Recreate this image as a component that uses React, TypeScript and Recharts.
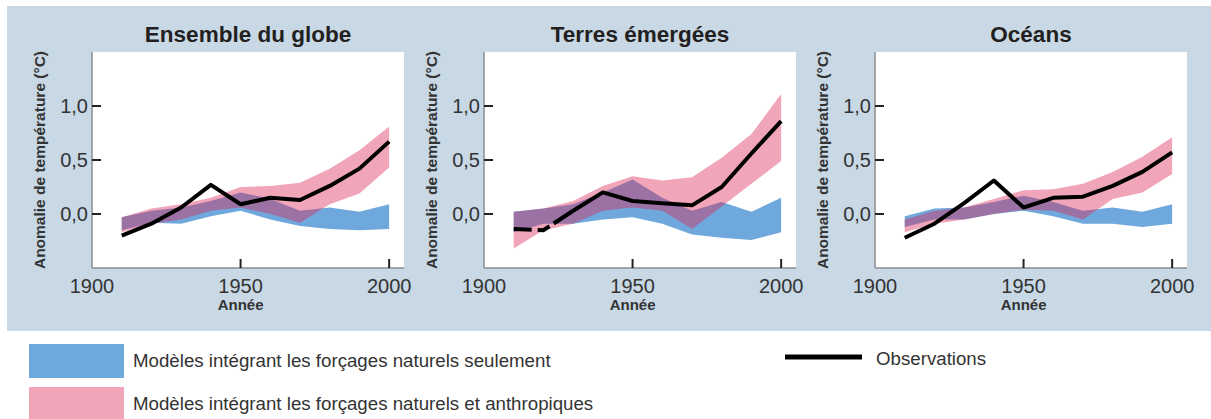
import { Area, CartesianGrid, ComposedChart, Line, XAxis, YAxis } from 'recharts';

const years = [1910, 1920, 1930, 1940, 1950, 1960, 1970, 1980, 1990, 2000];
const xTicks = [1900, 1950, 2000];
const yTicks = [0, 0.5, 1];

// Ensemble du globe
const globeObs = [-0.2, -0.09, 0.06, 0.27, 0.09, 0.15, 0.13, 0.26, 0.42, 0.67];
const globeNatLo = [-0.15, -0.08, -0.09, -0.02, 0.03, -0.05, -0.11, -0.14, -0.15, -0.14];
const globeNatHi = [-0.03, 0.03, 0.06, 0.12, 0.2, 0.14, 0.03, 0.06, 0.02, 0.09];
const globeAllLo = [-0.17, -0.09, -0.05, 0.03, 0.06, 0.0, -0.08, 0.09, 0.19, 0.43];
const globeAllHi = [-0.03, 0.05, 0.09, 0.15, 0.25, 0.26, 0.29, 0.42, 0.59, 0.81];

// Terres émergées
const landObs = [-0.14, -0.15, 0.03, 0.2, 0.12, 0.1, 0.08, 0.25, 0.56, 0.86];
const landNatLo = [-0.17, -0.09, -0.09, -0.05, -0.03, -0.09, -0.19, -0.22, -0.24, -0.17];
const landNatHi = [0.02, 0.05, 0.09, 0.2, 0.32, 0.15, 0.03, 0.11, 0.02, 0.15];
const landAllLo = [-0.32, -0.15, -0.09, 0.03, 0.06, 0.03, -0.14, 0.07, 0.28, 0.49];
const landAllHi = [0.02, 0.05, 0.12, 0.26, 0.35, 0.31, 0.34, 0.52, 0.74, 1.11];

// Océans
const oceanObs = [-0.22, -0.09, 0.1, 0.31, 0.06, 0.15, 0.16, 0.26, 0.39, 0.57];
const oceanNatLo = [-0.12, -0.05, -0.05, 0.0, 0.03, -0.02, -0.09, -0.09, -0.12, -0.09];
const oceanNatHi = [-0.02, 0.05, 0.06, 0.11, 0.17, 0.11, 0.03, 0.06, 0.02, 0.09];
const oceanAllLo = [-0.17, -0.09, -0.05, 0.0, 0.04, 0.03, -0.05, 0.14, 0.2, 0.37];
const oceanAllHi = [-0.05, 0.03, 0.06, 0.14, 0.22, 0.23, 0.28, 0.39, 0.53, 0.71];

const BG = '#c8d8e5';
const BLUE = '#6fa8dc';
const PINK = 'rgb(219,41,88)';
const FRAME = '#8c8c8c';
const TICK = '#222';
const TEXT = '#333';
const SANS = '"Liberation Sans", Arial, sans-serif';
const NARROW = '"Liberation Sans Narrow", "Arial Narrow", sans-serif';

const PLOT_W = 312;
const AXIS_W = 70;

const fmt = (v: number) => v.toFixed(1).replace('.', ',');

function BottomTick(props: any) {
  const { x, y, payload } = props;
  return (
    <g>
      {payload.value !== 1900 && (
        <line x1={x} x2={x} y1={y} y2={y - 9} stroke={TICK} strokeWidth={2} />
      )}
      <text x={x} y={y + 25} textAnchor="middle" fontSize={20} fill={TEXT} fontFamily={NARROW}>
        {payload.value}
      </text>
    </g>
  );
}

function LeftTick(props: any) {
  const { x, y, payload } = props;
  return (
    <g>
      <line x1={x} x2={x + 9} y1={y} y2={y} stroke={TICK} strokeWidth={2} />
      <text x={x - 4} y={y} dy="0.35em" textAnchor="end" fontSize={20} fill={TEXT} fontFamily={NARROW}>
        {fmt(payload.value)}
      </text>
    </g>
  );
}

function TopTick(props: any) {
  const { x, y, payload } = props;
  if (payload.value === 1900) return <g />;
  return <line x1={x} x2={x} y1={y} y2={y + 9} stroke={TICK} strokeWidth={2} />;
}

function RightTick(props: any) {
  const { x, y } = props;
  return <line x1={x} x2={x - 9} y1={y} y2={y} stroke={TICK} strokeWidth={2} />;
}

interface PanelProps {
  title: string;
  plotLeft: number;
  obs: number[];
  natLo: number[];
  natHi: number[];
  allLo: number[];
  allHi: number[];
  dashedStart?: boolean;
}

function Panel({ title, plotLeft, obs, natLo, natHi, allLo, allHi, dashedStart }: PanelProps) {
  const data = years.map((year, i) => ({
    year,
    nat: [natLo[i], natHi[i]],
    all: [allLo[i], allHi[i]],
    obs: dashedStart && i < 2 ? null : obs[i],
    early: dashedStart && i <= 2 ? obs[i] : null,
  }));
  const x1950 = plotLeft + (50 * PLOT_W) / 105;

  return (
    <>
      <div
        style={{
          position: 'absolute',
          left: plotLeft,
          width: PLOT_W,
          top: 21,
          lineHeight: '28px',
          textAlign: 'center',
          fontFamily: SANS,
          fontWeight: 'bold',
          fontSize: 22.5,
          color: '#231f20',
        }}
      >
        {title}
      </div>
      <div
        style={{
          position: 'absolute',
          left: plotLeft - 52,
          top: 160,
          transform: 'translate(-50%, -50%) rotate(-90deg)',
          whiteSpace: 'nowrap',
          fontFamily: SANS,
          fontWeight: 'bold',
          fontSize: 15.5,
          color: TEXT,
        }}
      >
        Anomalie de température (°C)
      </div>
      <div
        style={{
          position: 'absolute',
          left: x1950,
          top: 299,
          transform: 'translateX(-50%)',
          fontFamily: SANS,
          fontWeight: 'bold',
          fontSize: 15,
          lineHeight: '12px',
          color: TEXT,
        }}
      >
        Année
      </div>
      <div style={{ position: 'absolute', left: plotLeft - AXIS_W, top: 0 }}>
        <ComposedChart
          width={AXIS_W + PLOT_W + 10}
          height={330}
          data={data}
          margin={{ top: 52, right: 10, bottom: 0, left: 0 }}
        >
          <CartesianGrid horizontal={false} vertical={false} fill="#fff" stroke="none" />
          <XAxis
            dataKey="year"
            type="number"
            domain={[1900, 2005]}
            ticks={xTicks}
            interval={0}
            height={62}
            tickSize={0}
            tickMargin={0}
            tickLine={false}
            axisLine={{ stroke: FRAME, strokeWidth: 1.5 }}
            tick={(p: any) => <BottomTick {...p} />}
            allowDataOverflow
          />
          <XAxis
            xAxisId="top"
            orientation="top"
            dataKey="year"
            type="number"
            domain={[1900, 2005]}
            ticks={xTicks}
            interval={0}
            height={0}
            tickSize={0}
            tickMargin={0}
            tickLine={false}
            axisLine={{ stroke: FRAME, strokeWidth: 1.5 }}
            tick={(p: any) => <TopTick {...p} />}
          />
          <YAxis
            type="number"
            domain={[-0.5, 1.5]}
            ticks={yTicks}
            interval={0}
            width={AXIS_W}
            tickSize={0}
            tickMargin={0}
            tickLine={false}
            axisLine={{ stroke: FRAME, strokeWidth: 1.5 }}
            tick={(p: any) => <LeftTick {...p} />}
            allowDataOverflow
          />
          <YAxis
            yAxisId="right"
            orientation="right"
            type="number"
            domain={[-0.5, 1.5]}
            ticks={yTicks}
            interval={0}
            width={0}
            tickSize={0}
            tickMargin={0}
            tickLine={false}
            axisLine={{ stroke: FRAME, strokeWidth: 1.5 }}
            tick={(p: any) => <RightTick {...p} />}
          />
          <Area
            dataKey="nat"
            type="linear"
            stroke="none"
            fill={BLUE}
            fillOpacity={1}
            isAnimationActive={false}
          />
          <Area
            dataKey="all"
            type="linear"
            stroke="none"
            fill={PINK}
            fillOpacity={0.42}
            isAnimationActive={false}
          />
          {dashedStart && (
            <Line
              dataKey="early"
              type="linear"
              stroke="#000"
              strokeWidth={4}
              strokeDasharray="18 6 13 5 200 0"
              dot={false}
              activeDot={false}
              isAnimationActive={false}
            />
          )}
          <Line
            dataKey="obs"
            type="linear"
            stroke="#000"
            strokeWidth={4}
            strokeLinejoin="round"
            dot={false}
            activeDot={false}
            isAnimationActive={false}
          />
        </ComposedChart>
      </div>
    </>
  );
}

function LegendBlock() {
  return (
    <svg
      width={1211}
      height={88}
      style={{ position: 'absolute', left: 0, top: 331 }}
      fontFamily={SANS}
    >
      <rect x={29} y={13} width={95} height={34} fill={BLUE} />
      <rect x={29} y={56} width={95} height={40} fill={PINK} fillOpacity={0.42} />
      <text x={133} y={36} fontSize={18.7} fill={TEXT}>
        Modèles intégrant les forçages naturels seulement
      </text>
      <text x={133} y={79} fontSize={18.7} fill={TEXT}>
        Modèles intégrant les forçages naturels et anthropiques
      </text>
      <line x1={785} x2={862} y1={26} y2={26} stroke="#000" strokeWidth={5} />
      <text x={876} y={34} fontSize={18.7} fill={TEXT}>
        Observations
      </text>
    </svg>
  );
}

export default function App() {
  return (
    <div
      style={{
        position: 'absolute',
        left: 0,
        top: 0,
        width: 1211,
        height: 419,
        background: '#fff',
        overflow: 'hidden',
      }}
    >
      <div style={{ position: 'absolute', left: 7, top: 6, width: 1204, height: 325, background: BG }} />
      <Panel
        title="Ensemble du globe"
        plotLeft={92}
        obs={globeObs}
        natLo={globeNatLo}
        natHi={globeNatHi}
        allLo={globeAllLo}
        allHi={globeAllHi}
      />
      <Panel
        title="Terres émergées"
        plotLeft={484}
        obs={landObs}
        natLo={landNatLo}
        natHi={landNatHi}
        allLo={landAllLo}
        allHi={landAllHi}
        dashedStart
      />
      <Panel
        title="Océans"
        plotLeft={875}
        obs={oceanObs}
        natLo={oceanNatLo}
        natHi={oceanNatHi}
        allLo={oceanAllLo}
        allHi={oceanAllHi}
      />
      <LegendBlock />
    </div>
  );
}
